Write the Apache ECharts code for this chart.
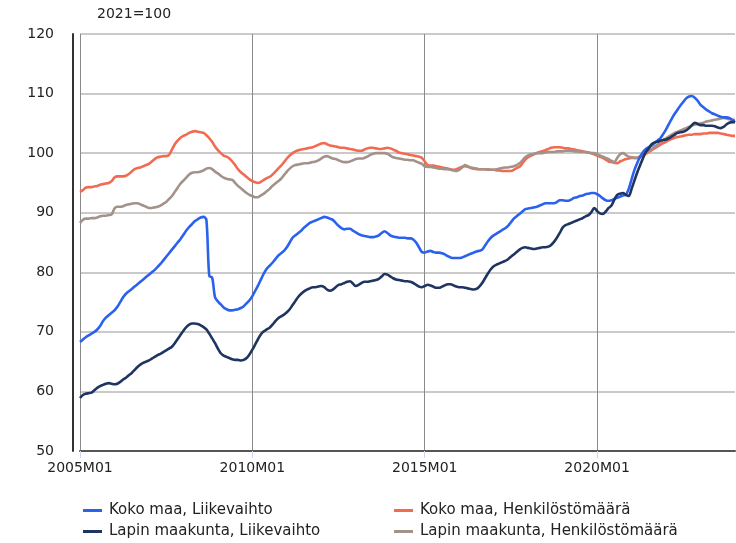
<!DOCTYPE html>
<html>
<head>
<meta charset="utf-8">
<script src="https://cdn.jsdelivr.net/npm/echarts@6/dist/echarts.min.js"></script>
<style>
  html, body { margin: 0; padding: 0; background: #fff; }
  #chart { width: 736px; height: 543px; }
</style>
</head>
<body>
<div id="chart"></div>
<script>
// kuukaudet 2005M01 .. 2024M01
const months = [];
for (let y = 2005; y <= 2024; y++) {
    for (let m = 1; m <= 12; m++) {
        if (y === 2024 && m > 1) break;
        months.push(y + 'M' + String(m).padStart(2, '0'));
    }
}
const tickLabels = ['2005M01', '2010M01', '2015M01', '2020M01'];

// Koko maa, Liikevaihto
const kokoLiikevaihto = [
    68.3, 68.7, 69.1, 69.4, 69.7, 70.0, 70.4, 71.0, 71.8, 72.4, 72.8, 73.2,
    73.6, 74.2, 75.0, 75.8, 76.4, 76.8, 77.2, 77.6, 78.0, 78.4, 78.8, 79.2,
    79.6, 80.0, 80.4, 80.9, 81.4, 82.0, 82.6, 83.2, 83.8, 84.4, 85.0, 85.6,
    86.3, 87.0, 87.6, 88.1, 88.6, 88.9, 89.2, 89.3, 88.8, 79.4, 79.1, 75.8,
    75.1, 74.6, 74.1, 73.8, 73.6, 73.6, 73.7, 73.8, 74.0, 74.3, 74.8, 75.3,
    76.0, 76.9, 77.8, 78.8, 79.8, 80.6, 81.1, 81.6, 82.2, 82.8, 83.2, 83.6,
    84.2, 85.0, 85.8, 86.2, 86.6, 87.0, 87.5, 87.9, 88.3, 88.5, 88.7, 88.9,
    89.1, 89.3, 89.2, 89.0, 88.8, 88.3, 87.8, 87.4, 87.2, 87.3, 87.3, 87.0,
    86.7, 86.4, 86.2, 86.1, 86.0, 85.9, 85.9, 86.0, 86.2, 86.6, 86.9, 86.6,
    86.2, 86.0, 85.9, 85.8, 85.8, 85.8, 85.7, 85.7, 85.5, 85.0, 84.2, 83.4,
    83.3, 83.5, 83.6, 83.4, 83.3, 83.3, 83.2, 83.0, 82.7, 82.5, 82.4, 82.4,
    82.4, 82.5, 82.7, 82.9, 83.1, 83.3, 83.5, 83.6, 83.8, 84.5, 85.2, 85.8,
    86.2, 86.5, 86.8, 87.1, 87.4, 87.8, 88.4, 89.0, 89.4, 89.8, 90.2, 90.6,
    90.7, 90.8, 90.9, 91.0, 91.2, 91.4, 91.6, 91.6, 91.6, 91.6, 91.8, 92.1,
    92.1, 92.0, 92.0, 92.2, 92.5, 92.6, 92.8, 92.9, 93.1, 93.2, 93.3, 93.3,
    93.1, 92.8, 92.4, 92.1, 92.0, 92.1, 92.3, 92.5, 92.7, 92.9, 93.0, 94.0,
    95.6, 97.2, 98.4, 99.4, 100.2, 100.7, 101.0, 101.3, 101.7, 102.1, 102.5, 103.2,
    104.0, 104.9, 105.8, 106.6, 107.3, 108.0, 108.6, 109.2, 109.5, 109.6, 109.3, 108.8,
    108.1, 107.7, 107.3, 107.0, 106.7, 106.5, 106.3, 106.1, 106.0, 106.0, 105.9, 105.6,
    105.2
];

// Lapin maakunta, Liikevaihto
const lappiLiikevaihto = [
    58.9, 59.4, 59.6, 59.7, 59.8, 60.2, 60.6, 60.9, 61.1, 61.3, 61.4, 61.3,
    61.2, 61.3, 61.6, 62.0, 62.3, 62.7, 63.1, 63.6, 64.1, 64.5, 64.8, 65.0,
    65.2, 65.5, 65.8, 66.1, 66.3, 66.6, 66.9, 67.2, 67.5, 68.1, 68.8, 69.5,
    70.2, 70.8, 71.2, 71.4, 71.4, 71.3, 71.1, 70.8, 70.4, 69.7, 68.9, 68.1,
    67.2, 66.4, 66.0, 65.8, 65.6, 65.4, 65.3, 65.3, 65.2, 65.3, 65.6, 66.2,
    67.0, 67.9, 68.8, 69.6, 70.1, 70.4, 70.7, 71.2, 71.8, 72.3, 72.6, 72.9,
    73.3, 73.8, 74.5, 75.2, 75.9, 76.4, 76.8, 77.1, 77.3, 77.5, 77.5, 77.6,
    77.7, 77.5, 77.1, 76.9, 77.1, 77.5, 77.9, 78.0, 78.2, 78.4, 78.5, 78.1,
    77.7, 77.9, 78.2, 78.4, 78.4, 78.5, 78.6, 78.7, 78.9, 79.3, 79.7, 79.6,
    79.3, 79.0, 78.8, 78.7, 78.6, 78.5, 78.5, 78.4, 78.2, 77.9, 77.6, 77.5,
    77.7, 77.9, 77.8, 77.6, 77.4, 77.4, 77.6, 77.8, 78.0, 78.0, 77.8, 77.6,
    77.5, 77.5, 77.4, 77.3, 77.2, 77.1, 77.2, 77.6, 78.2, 79.0, 79.8, 80.5,
    81.0, 81.3, 81.5, 81.7, 81.9, 82.2, 82.6, 83.0, 83.4, 83.8, 84.1, 84.2,
    84.1, 84.0, 83.9, 84.0, 84.1, 84.2, 84.2, 84.3, 84.6, 85.1, 85.8, 86.6,
    87.5, 87.9, 88.1, 88.3, 88.5, 88.7, 88.9, 89.1, 89.4, 89.6, 90.1, 90.8,
    90.3, 89.9, 89.8, 90.2, 90.8, 91.2, 92.2, 93.0, 93.2, 93.3, 93.0, 92.8,
    94.0, 95.4, 96.8, 98.0, 99.2, 100.2, 100.8, 101.5, 101.8, 101.9, 102.1, 102.2,
    102.3, 102.5, 102.8, 103.1, 103.4, 103.5, 103.6, 103.8, 104.2, 104.7, 105.1, 104.9,
    104.7, 104.7, 104.6, 104.6, 104.6, 104.5, 104.3, 104.2, 104.4, 104.8, 105.1, 105.2,
    105.2
];

// Koko maa, Henkilöstömäärä
const kokoHenkilosto = [
    93.5, 93.8, 94.2, 94.3, 94.3, 94.4, 94.5, 94.7, 94.8, 94.9, 95.0, 95.3,
    95.9, 96.1, 96.1, 96.1, 96.2, 96.5, 96.9, 97.3, 97.5, 97.6, 97.8, 98.0,
    98.2, 98.6, 99.0, 99.3, 99.4, 99.5, 99.5, 99.7, 100.6, 101.5, 102.1, 102.6,
    102.9, 103.1, 103.4, 103.6, 103.7, 103.6, 103.5, 103.4, 103.0, 102.5, 101.9, 101.1,
    100.5, 100.0, 99.6, 99.4, 99.1, 98.6, 98.0, 97.3, 96.8, 96.4, 96.0, 95.6,
    95.3, 95.1, 95.0, 95.2, 95.5, 95.8, 96.0, 96.4, 96.9, 97.4, 97.9, 98.5,
    99.1, 99.6, 100.0, 100.3, 100.5, 100.6, 100.7, 100.8, 100.9, 101.0, 101.2, 101.4,
    101.6, 101.7, 101.5, 101.3, 101.2, 101.1, 101.0, 100.9, 100.9, 100.8, 100.7, 100.6,
    100.5, 100.4, 100.4, 100.6, 100.8, 100.9, 100.9, 100.8, 100.7, 100.7, 100.8, 100.9,
    100.8, 100.6, 100.4, 100.1, 100.0, 99.9, 99.8, 99.7, 99.6, 99.5, 99.4, 99.2,
    98.6, 98.0, 97.9, 97.9, 97.8, 97.7, 97.6, 97.5, 97.4, 97.3, 97.2, 97.3,
    97.5, 97.7, 97.8, 97.7, 97.5, 97.4, 97.3, 97.3, 97.3, 97.3, 97.2, 97.2,
    97.2, 97.1, 97.1, 97.0, 97.0, 97.0, 97.0, 97.2, 97.5, 97.7, 98.3, 98.9,
    99.3, 99.6, 99.8, 100.0, 100.2, 100.3, 100.5, 100.7, 100.9, 101.0, 101.0, 101.0,
    100.9, 100.8, 100.8, 100.7, 100.6, 100.5, 100.4, 100.3, 100.2, 100.1, 100.0, 99.8,
    99.6, 99.4, 99.2, 98.9, 98.6, 98.5, 98.4, 98.3, 98.6, 98.8, 99.0, 99.1,
    99.2, 99.2, 99.2, 99.3, 99.6, 99.9, 100.2, 100.5, 100.8, 101.1, 101.4, 101.7,
    101.9, 102.2, 102.4, 102.6, 102.7, 102.8, 102.9, 103.0, 103.1, 103.1, 103.2, 103.2,
    103.2, 103.3, 103.3, 103.4, 103.4, 103.4, 103.4, 103.3, 103.2, 103.1, 103.0, 102.9,
    102.9
];

// Lapin maakunta, Henkilöstömäärä
const lappiHenkilosto = [
    88.3, 88.8, 89.0, 89.0, 89.1, 89.1, 89.2, 89.4, 89.5, 89.5, 89.6, 89.7,
    90.7, 91.0, 91.0, 91.1, 91.3, 91.4, 91.5, 91.6, 91.6, 91.4, 91.2, 91.0,
    90.8, 90.8, 90.9, 91.0, 91.2, 91.5, 91.8, 92.3, 92.8, 93.5, 94.2, 94.9,
    95.4, 95.9, 96.4, 96.7, 96.8, 96.8, 96.9, 97.1, 97.4, 97.5, 97.3, 96.9,
    96.6, 96.2, 95.9, 95.7, 95.6, 95.5, 95.0, 94.5, 94.1, 93.7, 93.3, 93.0,
    92.8, 92.6, 92.6, 92.9, 93.2, 93.6, 94.0, 94.5, 94.9, 95.3, 95.7, 96.3,
    96.9, 97.4, 97.8, 98.0, 98.1, 98.2, 98.3, 98.3, 98.4, 98.5, 98.6, 98.8,
    99.1, 99.4, 99.5, 99.3, 99.1, 99.0, 98.8, 98.6, 98.5, 98.5, 98.6, 98.8,
    99.0, 99.1, 99.1, 99.2, 99.4, 99.7, 99.9, 100.0, 100.0, 100.0, 100.0, 99.9,
    99.6, 99.3, 99.2, 99.1, 99.0, 98.9, 98.9, 98.8, 98.8, 98.6, 98.4, 98.2,
    97.8, 97.7, 97.7, 97.6, 97.5, 97.4, 97.4, 97.3, 97.3, 97.2, 97.1, 97.0,
    97.2, 97.6, 98.0, 97.8, 97.6, 97.5, 97.4, 97.3, 97.3, 97.3, 97.3, 97.2,
    97.2, 97.3, 97.4, 97.5, 97.6, 97.6, 97.7, 97.8, 98.0, 98.3, 98.8, 99.3,
    99.6, 99.8, 99.9, 100.0, 100.0, 100.0, 100.1, 100.2, 100.2, 100.2, 100.3, 100.3,
    100.3, 100.4, 100.4, 100.4, 100.3, 100.3, 100.2, 100.2, 100.2, 100.1, 100.0, 100.0,
    99.8, 99.6, 99.4, 99.2, 99.0, 98.7, 98.5, 99.2, 99.8, 100.0, 99.7, 99.4,
    99.3, 99.2, 99.2, 99.5, 99.8, 100.1, 100.4, 100.7, 101.1, 101.4, 101.8, 102.2,
    102.5, 102.8, 103.1, 103.4, 103.6, 103.8, 104.0, 104.2, 104.4, 104.6, 104.8, 104.9,
    105.0, 105.1, 105.3, 105.4, 105.5, 105.6, 105.7, 105.8, 105.9, 105.8, 105.7, 105.6,
    105.6
];

const FONT = 'DejaVu Sans';
const isTick = (idx) => tickLabels.indexOf(months[idx]) >= 0;

const lineSeries = (name, data, color) => ({
    name: name,
    type: 'line',
    data: data,
    showSymbol: false,
    smooth: 0.3,
    lineStyle: {color: color, width: 2.6},
    itemStyle: {color: color}
});

const legendBox = (left, names) => ({
    orient: 'vertical',
    left: left, top: 503, height: 80,
    itemGap: 6, itemWidth: 19, itemHeight: 3, icon: 'rect',
    padding: 0,
    data: names,
    textStyle: {fontSize: 15, color: '#222', lineHeight: 15, padding: [0, 0, 0, 2], fontFamily: FONT}
});

const chart = echarts.init(document.getElementById('chart'));
chart.setOption({
    animation: false,
    textStyle: {fontFamily: FONT},
    title: {
        text: '2021=100',
        left: 92, top: 2,
        textStyle: {fontSize: 14, fontWeight: 'normal', color: '#222', fontFamily: FONT}
    },
    grid: {left: 80, right: 1, top: 34, bottom: 92},
    legend: [
        legendBox(83, ['Koko maa, Liikevaihto', 'Lapin maakunta, Liikevaihto']),
        legendBox(394, ['Koko maa, Henkilöstömäärä', 'Lapin maakunta, Henkilöstömäärä'])
    ],
    xAxis: {
        type: 'category',
        data: months,
        boundaryGap: false,
        axisLine: {lineStyle: {color: '#555', width: 2}},
        axisTick: {
            interval: (idx) => isTick(idx),
            length: 7,
            lineStyle: {color: '#c9d8f0'}
        },
        axisLabel: {
            interval: (idx) => isTick(idx),
            fontSize: 14, color: '#222', margin: 10, fontFamily: FONT
        },
        splitLine: {
            show: true,
            interval: (idx) => isTick(idx),
            lineStyle: {color: '#8a8a8a', width: 1}
        }
    },
    yAxis: {
        type: 'value',
        min: 50, max: 120, interval: 10,
        offset: 7,
        axisLine: {show: true, lineStyle: {color: '#333', width: 2}},
        axisTick: {show: false},
        axisLabel: {fontSize: 14, color: '#222', margin: 19, fontFamily: FONT},
        splitLine: {lineStyle: {color: '#b8b8b8', width: 1.5}}
    },
    series: [
        lineSeries('Koko maa, Henkilöstömäärä', kokoHenkilosto, '#f26a50'),
        lineSeries('Lapin maakunta, Henkilöstömäärä', lappiHenkilosto, '#a39289'),
        lineSeries('Koko maa, Liikevaihto', kokoLiikevaihto, '#2a62ee'),
        lineSeries('Lapin maakunta, Liikevaihto', lappiLiikevaihto, '#1e3461')
    ]
});
</script>
</body>
</html>
